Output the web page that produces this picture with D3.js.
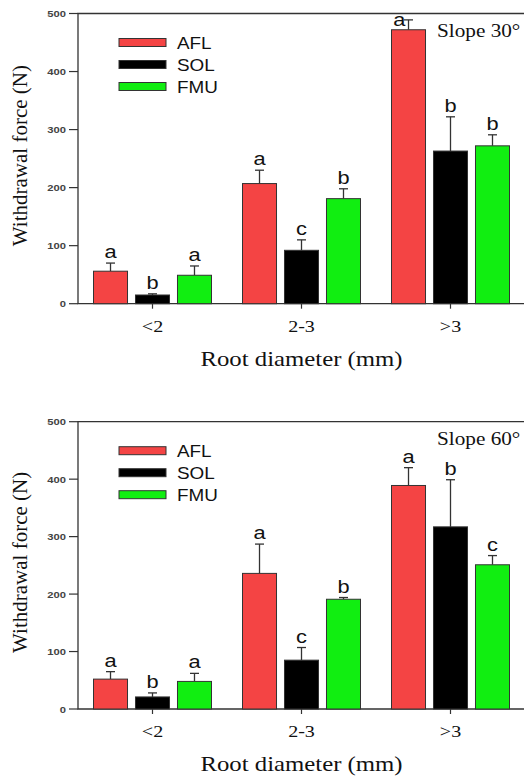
<!DOCTYPE html>
<html>
<head>
<meta charset="utf-8">
<script src="https://cdn.jsdelivr.net/npm/d3@7"></script>
<style>
  body { margin: 0; background: #fff; }
  svg { display: block; }
</style>
</head>
<body>
<script>
const width = 524;
const height = 778;

// categories and series
const categories = ["<2", "2-3", ">3"];
const series = ["AFL", "SOL", "FMU"];
const colors = ["#f44444", "#000000", "#11ee11"];
const yTicks = [0, 100, 200, 300, 400, 500];

// slope 30 means and upper error
const afl30 = [56, 207, 472];
const sol30 = [15, 92, 263];
const fmu30 = [49, 181, 272];
const afl30Err = [14, 23, 17];
const sol30Err = [2, 18, 59];
const fmu30Err = [16, 17, 19];
const afl30Letters = ["a", "a", "a"];
const sol30Letters = ["b", "c", "b"];
const fmu30Letters = ["a", "b", "b"];

// slope 60 means and upper error
const afl60 = [52, 236, 389];
const sol60 = [21, 85, 317];
const fmu60 = [48, 191, 251];
const afl60Err = [13, 51, 31];
const sol60Err = [7, 22, 82];
const fmu60Err = [14, 3, 16];
const afl60Letters = ["a", "a", "a"];
const sol60Letters = ["b", "c", "b"];
const fmu60Letters = ["a", "b", "c"];

// the source picture is a bit wider than tall, so stretch text sideways
const sx = 1.18;
const sans = "'Liberation Sans', Arial, sans-serif";
const serif = "'Liberation Serif', 'Times New Roman', serif";

let svg = d3.select("body").append("svg").attr("width", width).attr("height", height);

function hText(g, x, y, str, size, family, anchor, weight, fill)
{
    return g.append("text")
        .attr("transform", `translate(${x},${y}) scale(${sx},1)`)
        .attr("text-anchor", anchor || "start")
        .style("font-family", family)
        .style("font-size", size + "px")
        .style("font-weight", weight || "normal")
        .attr("fill", fill || "#111")
        .text(str);
}

function drawPanel(top, bottom, title, means, errs, letters)
{
    const g = svg.append("g");
    const left = 78, right = 525;

    let y = d3.scaleLinear().domain([0, 500]).range([bottom, top]);
    let x0 = d3.scaleBand().domain(categories).range([left, right]);
    let x1 = d3.scaleBand().domain(series).range([15.5, 133.5]).paddingInner(0.19);

    // frame
    g.append("path")
        .attr("d", `M${right},${top}H${left}V${bottom}H${right}`)
        .attr("fill", "none").attr("stroke", "#333").attr("stroke-width", 1.3);

    // y ticks
    yTicks.forEach(t => {
        g.append("line").attr("x1", left - 9).attr("x2", left)
            .attr("y1", y(t)).attr("y2", y(t)).attr("stroke", "#333").attr("stroke-width", 1.2);
        hText(g, left - 12, y(t) + 3.5, t, 9.5, sans, "end", "bold", "#444");
    });

    // x ticks
    categories.forEach(c => {
        const cx = x0(c) + x0.bandwidth() / 2;
        g.append("line").attr("x1", cx).attr("x2", cx)
            .attr("y1", bottom).attr("y2", bottom + 5).attr("stroke", "#333").attr("stroke-width", 1.2);
        hText(g, cx, bottom + 28, c, 17, serif, "middle");
    });

    // bars with error bars and letters
    series.forEach((s, si) => {
        categories.forEach((c, ci) => {
            const v = means[si][ci];
            const e = errs[si][ci];
            const bx = x0(c) + x1(s);
            const bw = x1.bandwidth();
            const cx = bx + bw / 2;
            g.append("line").attr("x1", cx).attr("x2", cx)
                .attr("y1", y(v)).attr("y2", y(v + e)).attr("stroke", "#333").attr("stroke-width", 1.3);
            g.append("line").attr("x1", cx - 4.5).attr("x2", cx + 4.5)
                .attr("y1", y(v + e)).attr("y2", y(v + e)).attr("stroke", "#333").attr("stroke-width", 1.3);
            g.append("rect")
                .attr("x", bx).attr("y", y(v))
                .attr("width", bw).attr("height", y(0) - y(v))
                .attr("fill", colors[si]).attr("stroke", "#333").attr("stroke-width", 1);
            let ly = y(v + e) - 5;
            if (ly < top + 12) {
                // no room above the cap: tuck it to the left
                hText(g, cx - 3, y(v + e) + 6, letters[si][ci], 18.5, sans, "end");
            } else {
                hText(g, cx, ly, letters[si][ci], 18.5, sans, "middle");
            }
        });
    });

    // legend
    series.forEach((s, si) => {
        const ly = top + 29 + si * 22;
        g.append("rect").attr("x", 119).attr("y", ly - 4).attr("width", 47).attr("height", 8)
            .attr("fill", colors[si]).attr("stroke", "#333").attr("stroke-width", 1);
        hText(g, 177, ly + 6, s, 16, sans, "start");
    });

    hText(g, 437, top + 23.5, title, 18, serif, "start");

    // axis titles
    hText(g, 301.5, bottom + 62, "Root diameter (mm)", 21, serif, "middle");
    g.append("text")
        .attr("transform", `translate(27,${(top + bottom) / 2 - 3}) rotate(-90)`)
        .attr("text-anchor", "middle")
        .style("font-family", serif).style("font-size", "21px")
        .attr("fill", "#111")
        .text("Withdrawal force (N)");
}

drawPanel(13.5, 303.7, "Slope 30°",
    [afl30, sol30, fmu30], [afl30Err, sol30Err, fmu30Err],
    [afl30Letters, sol30Letters, fmu30Letters]);
drawPanel(421.7, 709, "Slope 60°",
    [afl60, sol60, fmu60], [afl60Err, sol60Err, fmu60Err],
    [afl60Letters, sol60Letters, fmu60Letters]);
</script>
</body>
</html>
